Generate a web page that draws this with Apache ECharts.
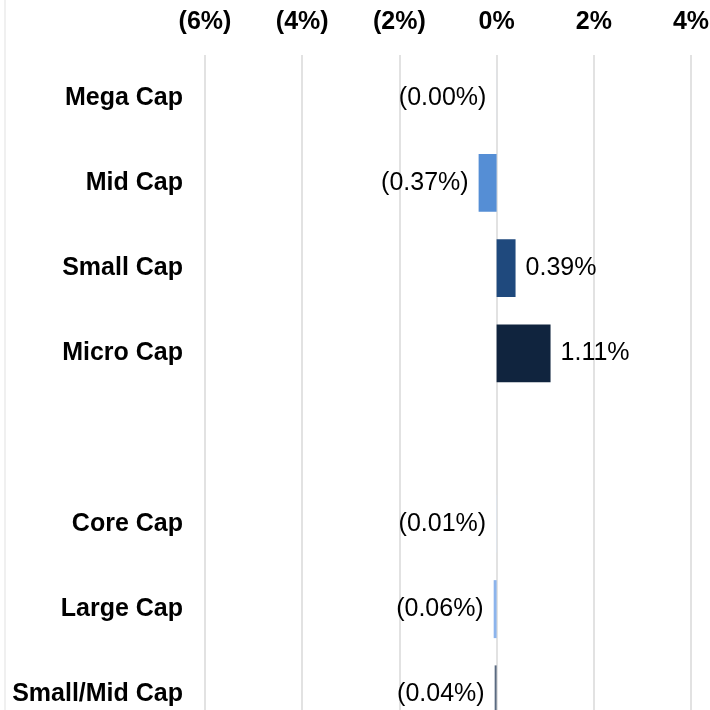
<!DOCTYPE html>
<html>
<head>
<meta charset="utf-8">
<script src="https://cdn.jsdelivr.net/npm/echarts@6/dist/echarts.min.js"></script>
<style>
  html, body { margin: 0; padding: 0; background: #fff; }
  #chart { width: 710px; height: 710px; }
</style>
</head>
<body>
<div id="chart"></div>
<script>
// categories top to bottom (blank row separates the two groups)
var categories = ['Mega Cap', 'Mid Cap', 'Small Cap', 'Micro Cap', '', 'Core Cap', 'Large Cap', 'Small/Mid Cap']
// relative return, %
var values = [-0.004, -0.37, 0.39, 1.11, null, -0.01, -0.06, -0.04]
var barColors = ['#dce6f2', '#558ed5', '#1f497d', '#10243e', '#ffffff', '#dce6f2', '#8cb4ec', '#5a6a80']
var xTicks = { min: -6, max: 4, step: 2 }

var FONT = 'Liberation Sans, Arial, sans-serif'

function pct(v, digits) {
  var s = Math.abs(v).toFixed(digits) + '%'
  return v < 0 ? '(' + s + ')' : s
}

var barData = values.map(function(v, i) {
  if (v == null) return null
  return {
    value: v,
    itemStyle: { color: barColors[i] },
    label: { position: v < 0 ? 'left' : 'right' }
  }
})

var chart = echarts.init(document.getElementById('chart'), null, { renderer: 'canvas' })

chart.setOption({
  backgroundColor: '#ffffff',
  animation: false,
  graphic: [{
    type: 'line',
    shape: { x1: 5, y1: 0, x2: 5, y2: 710 },
    style: { stroke: '#f0f0f0', lineWidth: 2 }
  }],
  // plot runs past the bottom edge, as in the original crop
  grid: { left: 205, right: 19, top: 55, height: 682, outerBoundsMode: 'none', containLabel: false },
  xAxis: {
    type: 'value',
    position: 'top',
    min: xTicks.min,
    max: xTicks.max,
    interval: xTicks.step,
    axisLine: { show: false },
    axisTick: { show: false },
    splitLine: { lineStyle: { color: '#d9d9d9', width: 1.5 } },
    axisLabel: {
      margin: 20,
      color: '#000',
      fontFamily: FONT,
      fontWeight: 'bold',
      fontSize: 25,
      formatter: function(v) { return pct(v, 0) }
    }
  },
  yAxis: {
    type: 'category',
    data: categories,
    inverse: true,
    axisLine: { show: false },
    axisTick: { show: false },
    axisLabel: {
      margin: 22,
      color: '#000',
      fontFamily: FONT,
      fontWeight: 'bold',
      fontSize: 25
    }
  },
  series: [{
    type: 'bar',
    data: barData,
    barCategoryGap: '32%',
    label: {
      show: true,
      distance: 10,
      color: '#000',
      fontFamily: FONT,
      fontSize: 25,
      formatter: function(p) { return pct(p.value, 2) }
    }
  }]
})
</script>
</body>
</html>
